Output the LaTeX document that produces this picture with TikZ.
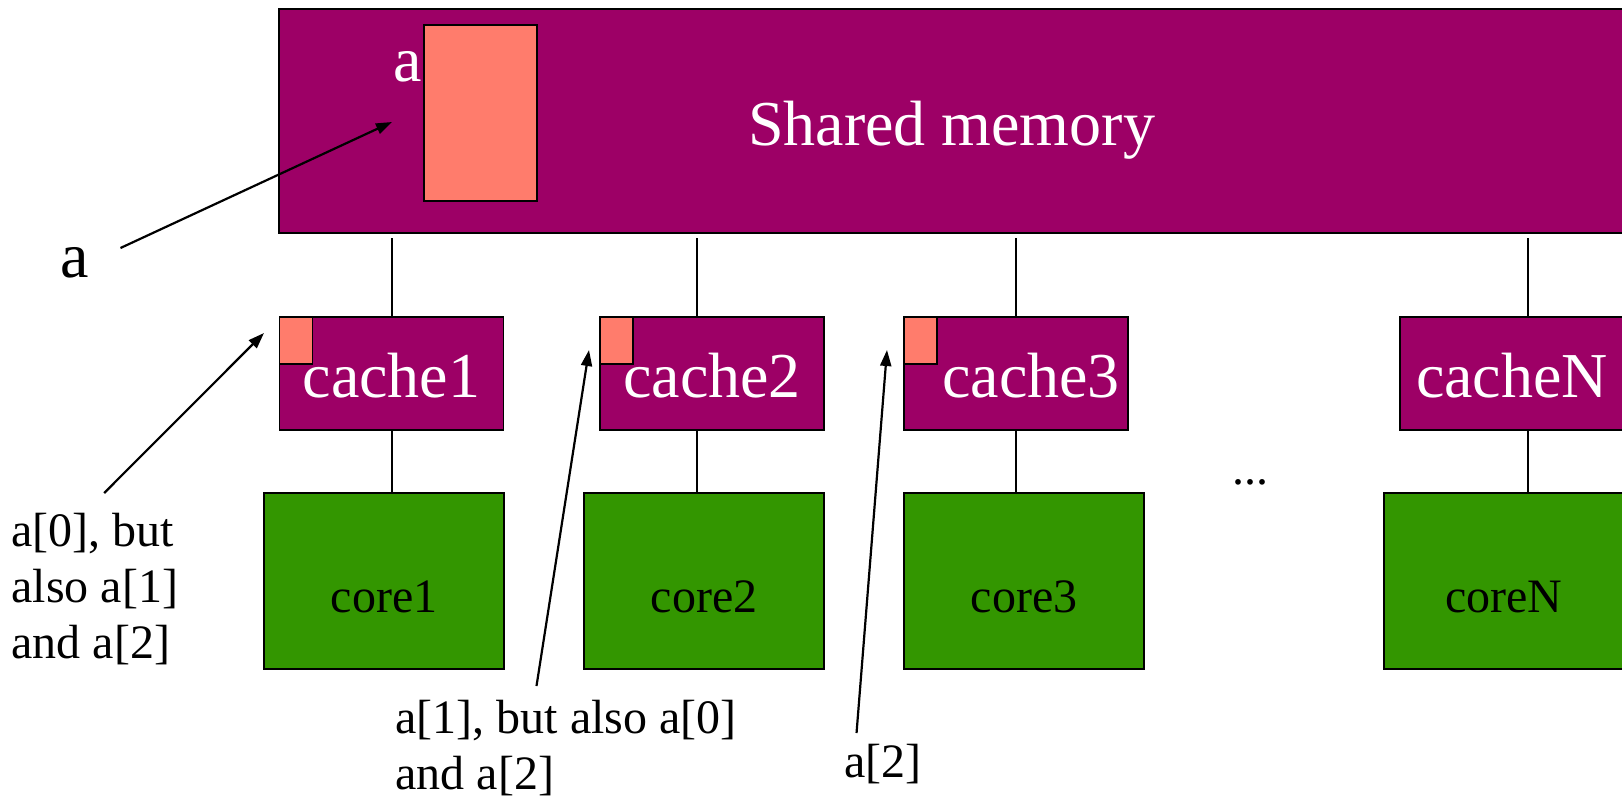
\documentclass[tikz,border=0pt]{standalone}
\usepackage{fontspec}
\setmainfont{Liberation Serif}
\usetikzlibrary{arrows.meta}
\definecolor{plum}{RGB}{157,0,102}
\definecolor{salmon}{RGB}{255,124,108}
\definecolor{leaf}{RGB}{51,150,0}
\begin{document}
\begin{tikzpicture}[x=0.5pt,y=-0.5pt]
        \tikzstyle{memory}=[rectangle,draw=black,line width=0.9pt,fill=plum,text=white,inner sep=0pt,font=\fontsize{32}{38}\selectfont]
        \tikzstyle{cache}=[memory,minimum width=112pt,minimum height=56.5pt,text height=23.5pt,text depth=0pt]
        \tikzstyle{core}=[rectangle,draw=black,line width=0.9pt,fill=leaf,inner sep=0pt,minimum width=120pt,minimum height=88pt,text height=31pt,text depth=0pt,font=\fontsize{24}{28}\selectfont]
        \tikzstyle{block}=[rectangle,draw=black,line width=0.9pt,fill=salmon,inner sep=0pt]
        \tikzstyle{note}=[inner sep=0pt,align=left,font=\fontsize{24}{28}\selectfont]
        \tikzstyle{bus}=[draw,line width=0.9pt]
        \tikzstyle{pointer}=[draw,line width=1.1pt,-{Triangle[length=8pt,width=5.5pt]}]
       \useasboundingbox (0,0) rectangle (1622,798);
       \begin{scope}
         % memory and its array
         \node [memory,text height=24pt,text depth=0pt,minimum width=672.5pt,minimum height=112pt] (mem) at (951.5,121) {Shared memory};
         \node [block,minimum width=56.5pt,minimum height=88pt] (arr) at (480.5,113) {};
         \node [text=white,inner sep=0pt,anchor=base,font=\fontsize{32}{38}\selectfont] (arrname) at (408,81) {a};

         % caches
         \node [cache] (c1) at (391.5,373.5) {cache1};
         \node [cache] (c2) at (712,373.5) {cache2};
         \node [cache] (c3) at (1016,373.5) {\hspace*{15pt}cache3};
         \node [cache] (cn) at (1512,373.5) {cacheN};
         \node [block,anchor=north west,minimum width=16.5pt,minimum height=23.5pt] (l1) at (c1.north west) {};
         \node [block,anchor=north west,minimum width=16.5pt,minimum height=23.5pt] (l2) at (c2.north west) {};
         \node [block,anchor=north west,minimum width=16.5pt,minimum height=23.5pt] (l3) at (c3.north west) {};

         % cores
         \node [core] (k1) at (384,581) {core1};
         \node [core] (k2) at (704,581) {core2};
         \node [core] (k3) at (1024,581) {core3};
         \node [core] (kn) at (1504,581) {coreN};
         \node [note,anchor=base] (dots) at (1250,484) {...};

         % bus lines
         \coordinate (b1) at (392,0);
         \coordinate (b2) at (697,0);
         \coordinate (b3) at (1016,0);
         \coordinate (bn) at (1528,0);
         \path[bus,shorten >=2pt] (c1.north -| b1) -- (mem.south -| b1);
         \path[bus,shorten >=2pt] (c2.north -| b2) -- (mem.south -| b2);
         \path[bus,shorten >=2pt] (c3.north -| b3) -- (mem.south -| b3);
         \path[bus,shorten >=2pt] (cn.north -| bn) -- (mem.south -| bn);
         \path[bus] (c1.south -| b1) -- (k1.north -| b1);
         \path[bus] (c2.south -| b2) -- (k2.north -| b2);
         \path[bus] (c3.south -| b3) -- (k3.north -| b3);
         \path[bus] (cn.south -| bn) -- (kn.north -| bn);

         % labels and pointers
         \node [inner sep=0pt,anchor=base,font=\fontsize{32}{38}\selectfont] (var) at (74.5,277) {a};
         \node [note,anchor=north west] (n1) at (11,513) {a[0], but\\also a[1]\\and a[2]};
         \node [note,anchor=north west] (n2) at (395,700) {a[1], but also a[0]\\and a[2]};
         \node [note,anchor=north west] (n3) at (844,744) {a[2]};
         \coordinate (pa) at (392,122);
         \coordinate (p1) at (264,333);
         \coordinate (p2) at (589,350);
         \coordinate (p3) at (887,350);
         \path[pointer] ([xshift=23pt,yshift=14.5pt]var.base) -- (pa);
         \path[pointer] ([xshift=4.75pt,yshift=10pt]n1.north) -- (p1);
         \path[pointer] ([xshift=-14.75pt,yshift=7pt]n2.north) -- (p2);
         \path[pointer] ([xshift=-13.25pt,yshift=5.5pt]n3.north) -- (p3);
        \end{scope}
      \end{tikzpicture}
\end{document}
